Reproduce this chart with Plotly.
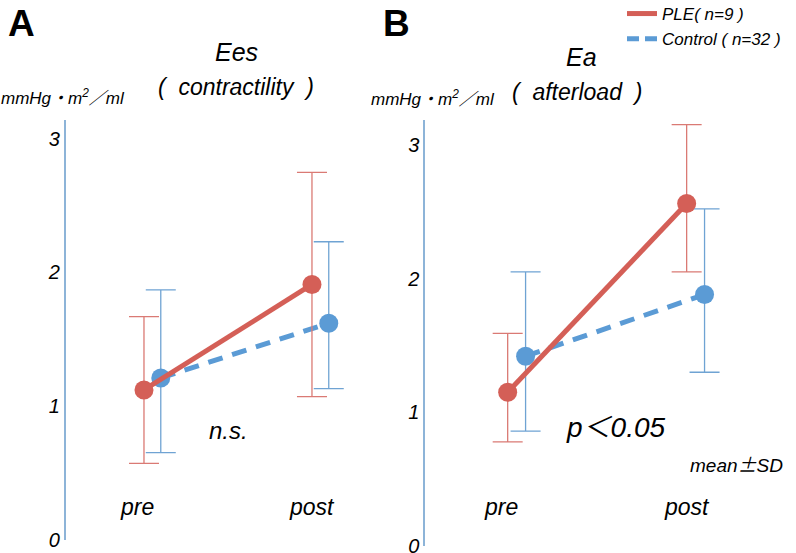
import plotly.graph_objects as go

# ---------------- data ----------------
phases = ["pre", "post"]

ees_ple_mean = [1.12, 1.91]
ees_ple_upper = [1.67, 2.75]
ees_ple_lower = [0.57, 1.07]
ees_ctrl_mean = [1.21, 1.62]
ees_ctrl_upper = [1.87, 2.23]
ees_ctrl_lower = [0.65, 1.13]

ea_ple_mean = [1.15, 2.56]
ea_ple_upper = [1.59, 3.15]
ea_ple_lower = [0.78, 2.05]
ea_ctrl_mean = [1.42, 1.88]
ea_ctrl_upper = [2.05, 2.52]
ea_ctrl_lower = [0.86, 1.30]

y_ticks = [0, 1, 2, 3]
ple_name = "PLE( n=9 )"
ctrl_name = "Control ( n=32 )"

# ---------------- style ----------------
RED = "#D45F57"
RED_ERR = "#DA7A74"
BLUE = "#5B9BD5"
BLUE_ERR = "#6FA3D3"
AXIS = "#8DB4D8"
FONT = "Liberation Sans, Noto Sans CJK JP, Arial, sans-serif"
CJK = "Noto Sans CJK JP"

x_pos = list(range(len(phases)))
ctrl_offset = 0.1


def add_series(fig, mean, upper, lower, xs, color, ecolor, dash, xa, ya):
    fig.add_trace(go.Scatter(
        x=xs, y=mean, mode="lines+markers",
        line=dict(color=color, width=5, dash=dash),
        marker=dict(color=color, size=19),
        error_y=dict(type="data", symmetric=False,
                     array=[u - m for u, m in zip(upper, mean)],
                     arrayminus=[m - l for m, l in zip(mean, lower)],
                     color=ecolor, thickness=1.3, width=15),
        showlegend=False, xaxis=xa, yaxis=ya, hoverinfo="skip"))


fig = go.Figure()
xs_ctrl = [x + ctrl_offset for x in x_pos]
# panel A
add_series(fig, ees_ctrl_mean, ees_ctrl_upper, ees_ctrl_lower, xs_ctrl, BLUE, BLUE_ERR, "15px,10px", "x", "y")
add_series(fig, ees_ple_mean, ees_ple_upper, ees_ple_lower, x_pos, RED, RED_ERR, "solid", "x", "y")
# panel B
add_series(fig, ea_ctrl_mean, ea_ctrl_upper, ea_ctrl_lower, xs_ctrl, BLUE, BLUE_ERR, "15px,10px", "x2", "y2")
add_series(fig, ea_ple_mean, ea_ple_upper, ea_ple_lower, x_pos, RED, RED_ERR, "solid", "x2", "y2")

# legend entries
fig.add_trace(go.Scatter(x=[None], y=[None], mode="lines", name=f"<i>{ple_name}</i>",
                         line=dict(color=RED, width=5), xaxis="x2", yaxis="y2"))
fig.add_trace(go.Scatter(x=[None], y=[None], mode="lines", name=f"<i>{ctrl_name}</i>",
                         line=dict(color=BLUE, width=5, dash="12px,6px"), xaxis="x2", yaxis="y2"))

W, H = 796, 553

yaxis_common = dict(
    showline=True, linecolor=AXIS, linewidth=1.5, showgrid=False, zeroline=False,
    ticks="", tickvals=y_ticks, ticktext=[f"<i>{t}</i>" for t in y_ticks],
    tickfont=dict(family=FONT, size=20, color="black"), ticklabelstandoff=0,
    ticklabeloverflow="allow", automargin=False,
)
xaxis_common = dict(visible=False, showgrid=False, zeroline=False, automargin=False)

fig.update_layout(
    width=W, height=H,
    margin=dict(l=0, r=0, t=0, b=0, autoexpand=False),
    paper_bgcolor="white", plot_bgcolor="white",
    font=dict(family=FONT, color="black"),
    xaxis=dict(domain=[65.7 / W, 380 / W], range=[-0.466, 1.405], **xaxis_common),
    yaxis=dict(domain=[(H - 539.5) / H, (H - 120) / H], range=[0, 3.142], **yaxis_common),
    xaxis2=dict(domain=[425 / W, 1.0], range=[-0.462, 1.611], anchor="y2", **xaxis_common),
    yaxis2=dict(domain=[(H - 546.3) / H, (H - 120) / H], range=[0, 3.184], anchor="x2", **yaxis_common),
    legend=dict(x=622 / W, y=1 + 4 / H, xanchor="left", yanchor="top",
                font=dict(family=FONT, size=17), bgcolor="rgba(0,0,0,0)",
                tracegroupgap=0, itemwidth=30),
    showlegend=True,
)


def txt(text, x, y, size, xref="paper", yref="paper", bold=False, italic=True, family=FONT):
    t = f"<i>{text}</i>" if italic else text
    if bold:
        t = f"<b>{t}</b>"
    fig.add_annotation(text=t, x=x, y=y, xref=xref, yref=yref, showarrow=False,
                       xanchor="center", yanchor="middle",
                       font=dict(family=family, size=size, color="black"))


def px(x, y):
    return x / W, (H - y) / H


# panel letters
txt("A", *px(21.7, 23.5), 37, bold=True, italic=False, family="Liberation Sans, Arial, sans-serif")
txt("B", *px(396.7, 23.5), 37, bold=True, italic=False, family="Liberation Sans, Arial, sans-serif")

# titles
txt("Ees", *px(236, 52), 25)
txt("(  contractility  )", *px(236, 87), 23)
txt("Ea", *px(581.7, 57), 25)
txt("(  afterload  )", *px(577, 92), 23)

# units
unit = "mmHg・m<sup>2</sup>／ml"
txt(unit, *px(63, 97), 17)
txt(unit, *px(433, 98), 17)

# x category labels (inside plot)
for xa, ya, yv in (("x", "y", 0.24), ("x2", "y2", 0.29)):
    for i, p in enumerate(phases):
        fig.add_annotation(text=f"<i>{p}</i>", x=x_pos[i] - 0.04 if i == 0 else x_pos[i],
                           y=yv, xref=xa, yref=ya, showarrow=False,
                           font=dict(family=FONT, size=23, color="black"))

# statistics
txt("n.s.", *px(228, 430), 24)
txt("p＜0.05", *px(615, 428), 28)
txt(f"mean<span style='font-family:{CJK}'>±</span>SD", *px(736, 463), 19)

fig.write_html("out.html", post_script="document.body.style.margin='0px';",
               config={"displayModeBar": False})
